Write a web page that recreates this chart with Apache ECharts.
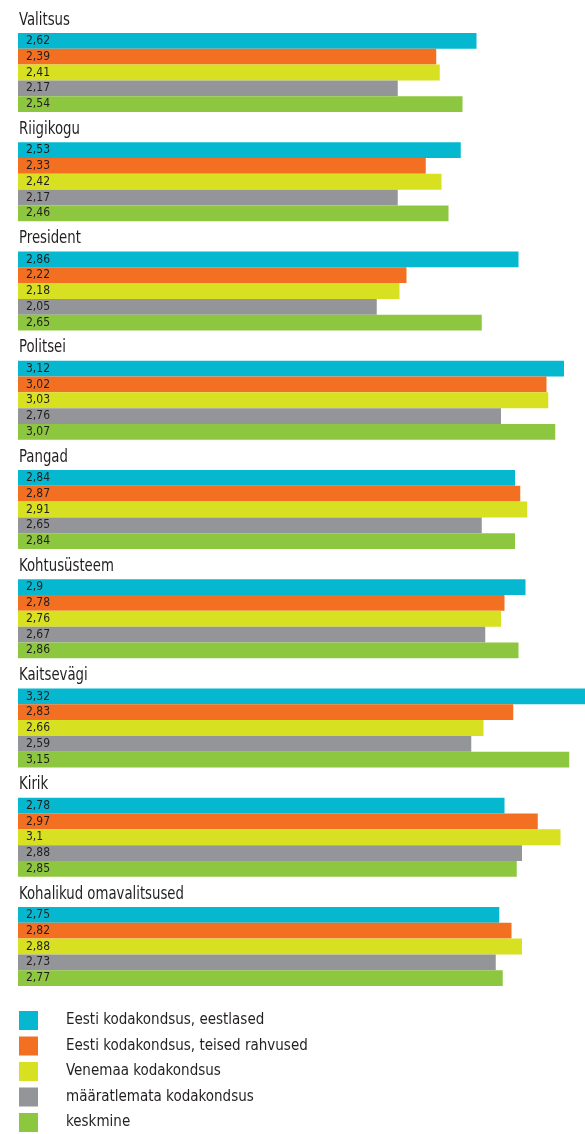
<!DOCTYPE html>
<html>
<head>
<meta charset="utf-8">
<script src="https://cdn.jsdelivr.net/npm/echarts@6/dist/echarts.min.js"></script>
<style>
  html, body { margin: 0; padding: 0; background: #fff; }
  #chart { width: 585px; height: 1134px; }
</style>
</head>
<body>
<div id="chart"></div>
<script>
// institutions (one block each)
var groups = ['Valitsus', 'Riigikogu', 'President', 'Politsei', 'Pangad',
  'Kohtusüsteem', 'Kaitsevägi', 'Kirik', 'Kohalikud omavalitsused'];

var seriesNames = ['Eesti kodakondsus, eestlased', 'Eesti kodakondsus, teised rahvused',
  'Venemaa kodakondsus', 'määratlemata kodakondsus', 'keskmine'];

// values per series, in the order of groups
var eestlased    = [2.62, 2.53, 2.86, 3.12, 2.84, 2.90, 3.32, 2.78, 2.75];
var teised       = [2.39, 2.33, 2.22, 3.02, 2.87, 2.78, 2.83, 2.97, 2.82];
var venemaa      = [2.41, 2.42, 2.18, 3.03, 2.91, 2.76, 2.66, 3.10, 2.88];
var maaratlemata = [2.17, 2.17, 2.05, 2.76, 2.65, 2.67, 2.59, 2.88, 2.73];
var keskmine     = [2.54, 2.46, 2.65, 3.07, 2.84, 2.86, 3.15, 2.85, 2.77];

var values = [eestlased, teised, venemaa, maaratlemata, keskmine];
var colors = ['#05b8cf', '#f36f21', '#d7e021', '#939598', '#8dc63f'];

var FONT = '"DejaVu Sans Condensed", "DejaVu Sans", sans-serif';
var TEXT = '#231f20';
var xMax = 3.24;          // right edge of the page; the 3,32 bar runs off it
var blockStep = 109.25;

var grids = [], xAxes = [], yAxes = [], heads = [], series = [];

groups.forEach(function (name, g) {
  var top = 33 + g * blockStep;
  grids.push({ left: 18, right: 0, top: top, height: 79 });
  xAxes.push({ type: 'value', gridIndex: g, min: 0, max: xMax, show: false });
  yAxes.push({ type: 'category', gridIndex: g, data: [name], inverse: true, show: false });
  // block heading, squeezed to look like the condensed print face
  heads.push({
    type: 'text', x: 19, y: top - 13, scaleX: 0.82, silent: true,
    style: { text: name, font: 'normal 18px ' + FONT, fill: TEXT,
      align: 'left', verticalAlign: 'middle' }
  });
  values.forEach(function (vals, s) {
    series.push({
      name: seriesNames[s],
      type: 'bar',
      xAxisIndex: g,
      yAxisIndex: g,
      barGap: 0,
      barCategoryGap: 0,
      itemStyle: { color: colors[s] },
      label: {
        show: true, position: 'insideLeft', distance: 8,
        fontFamily: FONT, fontSize: 12, color: TEXT,
        formatter: function (p) { return String(p.value).replace('.', ','); }
      },
      silent: true,
      data: [vals[g]]
    });
  });
});

var chart = echarts.init(document.getElementById('chart'));
chart.setOption({
  backgroundColor: '#fff',
  animation: false,
  color: colors,
  graphic: heads,
  grid: grids,
  xAxis: xAxes,
  yAxis: yAxes,
  legend: {
    data: seriesNames,
    orient: 'vertical',
    left: 19,
    top: 1011,
    padding: 0,
    itemWidth: 19,
    itemHeight: 19,
    itemGap: 6.5,
    icon: 'rect',
    selectedMode: false,
    textStyle: { fontFamily: FONT, fontSize: 15, color: TEXT, padding: [0, 0, 0, 23] }
  },
  series: series
});
</script>
</body>
</html>
